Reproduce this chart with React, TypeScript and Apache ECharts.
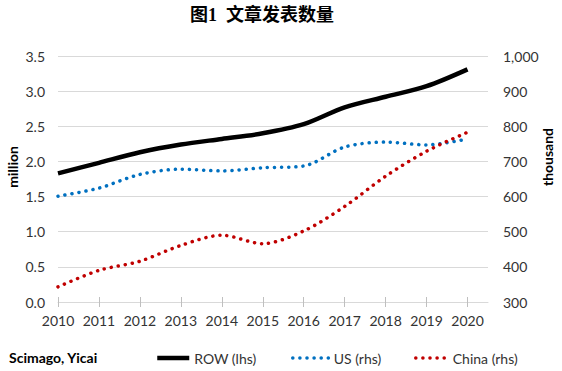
import React, { useEffect, useRef } from "react";
import * as echarts from "echarts";

const years = [2010, 2011, 2012, 2013, 2014, 2015, 2016, 2017, 2018, 2019, 2020];
const rowMillion = [1.83, 1.98, 2.13, 2.24, 2.32, 2.4, 2.53, 2.77, 2.92, 3.07, 3.31];
const usThousand = [601, 624, 663, 678, 673, 682, 687, 741, 755, 747, 764];
const chinaThousand = [343, 390, 416, 461, 490, 466, 502, 572, 658, 729, 783];

const FONT = "Lato, 'Open Sans', sans-serif";

export default function App() {
  const ref = useRef<HTMLDivElement>(null);
  useEffect(() => {
    if (!ref.current) return;
    const chart = echarts.init(ref.current, undefined, { renderer: "svg" });
    const pair = (vals: number[]) => years.map((y, i) => [y, vals[i]]);
    const dotStyle = (color: string) => ({
      color,
      width: 3.5,
      type: [0.1, 7] as any,
      cap: "round" as const,
    });
    const legendBase = {
      top: 346,
      itemHeight: 14,
      itemGap: 0,
      itemStyle: { opacity: 0 },
      textStyle: { color: "#333", fontSize: 14, fontFamily: FONT },
    };
    chart.setOption({
      animation: false,
      backgroundColor: "#fff",
      textStyle: { fontFamily: FONT },
      grid: { left: 58, right: 74, top: 56, bottom: 69, containLabel: false },
      xAxis: [
        {
          type: "value",
          min: 2010,
          max: 2020.5,
          interval: 1,
          axisLine: { show: true, lineStyle: { color: "#d9d9d9", width: 1 } },
          axisTick: {
            show: true,
            length: 5,
            lineStyle: { color: "#bfbfbf" },
            customValues: years,
          },
          axisLabel: {
            customValues: years,
            color: "#333",
            fontSize: 14,
            fontFamily: FONT,
            margin: 11,
            formatter: (v: number) => (Number.isInteger(v) ? String(v) : ""),
          },
          splitLine: { show: false },
        },
        {
          type: "value",
          position: "bottom",
          min: 2010,
          max: 2020.5,
          interval: 1,
          axisLine: { show: false },
          axisTick: {
            show: true,
            inside: true,
            length: 5,
            lineStyle: { color: "#bfbfbf" },
            customValues: years,
          },
          axisLabel: { show: false },
          splitLine: { show: false },
        },
      ],
      yAxis: [
        {
          type: "value",
          min: 0,
          max: 3.5,
          interval: 0.5,
          axisLine: { show: false },
          axisTick: { show: false },
          axisLabel: {
            color: "#333",
            fontSize: 14,
            fontFamily: FONT,
            margin: 13,
            formatter: (v: number) => v.toFixed(1),
          },
          splitLine: { lineStyle: { color: "#d9d9d9", width: 1 } },
        },
        {
          type: "value",
          min: 300,
          max: 1000,
          interval: 100,
          axisLine: { show: false },
          axisTick: { show: false },
          axisLabel: {
            color: "#333",
            fontSize: 14,
            fontFamily: FONT,
            margin: 15,
            formatter: (v: number) => v.toLocaleString("en-US"),
          },
          splitLine: { show: false },
        },
      ],
      legend: [
        {
          ...legendBase,
          left: 150,
          itemWidth: 32,
          data: ["ROW (lhs)"],
          lineStyle: { width: 4.5, color: "#000" },
        },
        {
          ...legendBase,
          left: 286,
          itemWidth: 36,
          data: ["US (rhs)"],
          lineStyle: { width: 3.5, color: "#0070C0", type: [0.1, 7], cap: "round" },
        },
        {
          ...legendBase,
          left: 409,
          itemWidth: 32,
          data: ["China (rhs)"],
          lineStyle: { width: 3.5, color: "#C00000", type: [0.1, 7], cap: "round" },
        },
      ],
      series: [
        {
          name: "ROW (lhs)",
          type: "line",
          yAxisIndex: 0,
          data: pair(rowMillion),
          smooth: 0.3,
          symbol: "none",
          lineStyle: { color: "#000", width: 4.5 },
          itemStyle: { color: "#000" },
          z: 3,
        },
        {
          name: "US (rhs)",
          type: "line",
          yAxisIndex: 1,
          data: pair(usThousand),
          smooth: 0.3,
          symbol: "none",
          lineStyle: dotStyle("#0070C0"),
          itemStyle: { color: "#0070C0" },
        },
        {
          name: "China (rhs)",
          type: "line",
          yAxisIndex: 1,
          data: pair(chinaThousand),
          smooth: 0.3,
          symbol: "none",
          lineStyle: dotStyle("#C00000"),
          itemStyle: { color: "#C00000" },
        },
      ],
      graphic: [
        {
          type: "text",
          left: 260 - 70,
          top: 6,
          style: {
            text: "图1  文章发表数量",
            fontSize: 18,
            fontWeight: "bold",
            fontFamily: "'Liberation Serif', 'Noto Sans CJK SC', serif",
            fill: "#000",
          },
        },
        {
          type: "text",
          x: 12,
          y: 167,
          rotation: Math.PI / 2,
          style: {
            text: "million",
            fontSize: 14,
            fontWeight: "bold",
            fontFamily: FONT,
            fill: "#000",
            align: "center",
            verticalAlign: "middle",
          },
        },
        {
          type: "text",
          x: 547,
          y: 157,
          rotation: Math.PI / 2,
          style: {
            text: "thousand",
            fontSize: 14,
            fontWeight: "bold",
            fontFamily: FONT,
            fill: "#000",
            align: "center",
            verticalAlign: "middle",
          },
        },
        {
          type: "text",
          x: 9,
          y: 357,
          style: {
            text: "Scimago, Yicai",
            fontSize: 14,
            fontWeight: "bold",
            fontFamily: FONT,
            fill: "#000",
            verticalAlign: "middle",
          },
        },
      ],
    });
    return () => chart.dispose();
  }, []);
  return <div ref={ref} style={{ width: 562, height: 371, position: "absolute", left: 0, top: 0 }} />;
}
